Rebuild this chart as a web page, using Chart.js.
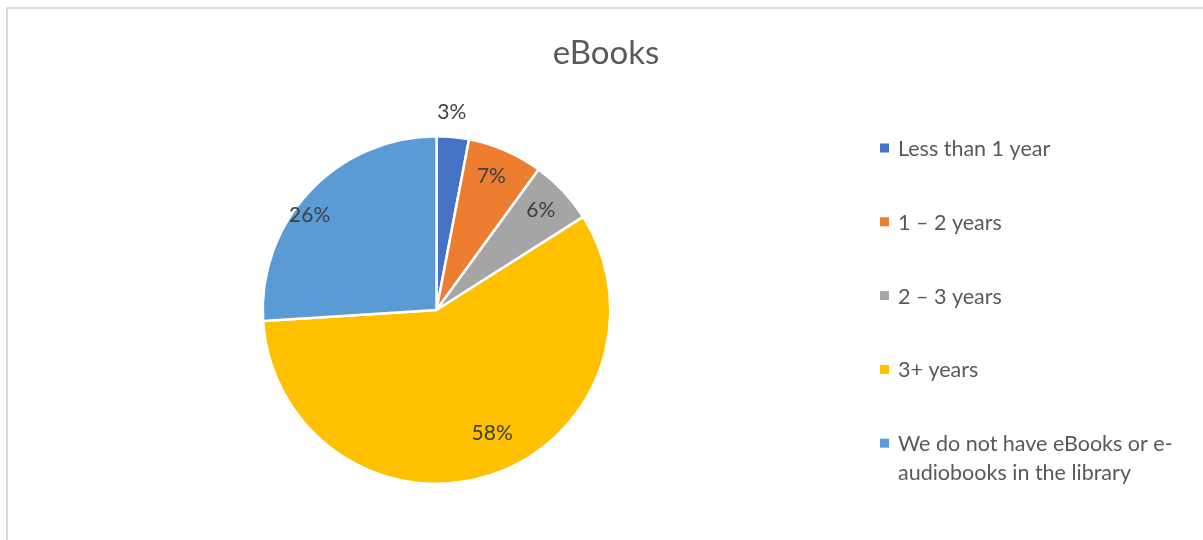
<!DOCTYPE html>
<html>
<head>
<meta charset="utf-8">
<script src="https://cdn.jsdelivr.net/npm/chart.js@4/dist/chart.umd.min.js"></script>
<style>
  html, body { margin: 0; padding: 0; background: #ffffff; overflow: hidden; }
  #frame { position: absolute; left: 6px; top: 7px; width: 1400px; height: 700px;
           border-left: 2px solid #d9d9d9; border-top: 2px solid #dedede; }
  #wrap { position: absolute; left: 0; top: 0; width: 1203px; height: 540px; }
</style>
</head>
<body>
<div id="frame"></div>
<div id="wrap"><canvas id="c" width="1203" height="540"></canvas></div>
<script>
// Survey answers: how long the library has offered eBooks
const chartTitle = 'eBooks';
const categories = ['Less than 1 year', '1 – 2 years', '2 – 3 years', '3+ years',
                    'We do not have eBooks or e-audiobooks in the library'];
const shares = [3, 7, 6, 58, 26];
const legendLines = [
  ['Less than 1 year'],
  ['1 – 2 years'],
  ['2 – 3 years'],
  ['3+ years'],
  ['We do not have eBooks or e-', 'audiobooks in the library']
];
const sliceColors = ['#4472C4', '#ED7D31', '#A5A5A5', '#FFC000', '#5B9BD5'];

// Where each percentage label sits: fraction along the slice's sweep, and
// distance from the centre as a fraction of the outer radius.
const labelPlacement = [
  { along: 0.41, radius: 1.14 },
  { along: 0.46, radius: 0.83 },
  { along: 0.48, radius: 0.83 },
  { along: 0.47, radius: 0.78 },
  { along: 0.43, radius: 0.91 }
];

const FONT = 'Lato, Calibri, "Open Sans", sans-serif';

const decorations = {
  id: 'decorations',
  afterDraw(chart) {
    const ctx = chart.ctx;
    ctx.save();

    // title
    ctx.fillStyle = '#595959';
    ctx.font = '33px ' + FONT;
    ctx.textAlign = 'center';
    ctx.textBaseline = 'middle';
    ctx.fillText(chartTitle, 606, 53);

    // percentage labels
    const meta = chart.getDatasetMeta(0);
    ctx.fillStyle = '#404040';
    ctx.font = '21px ' + FONT;
    meta.data.forEach((arc, i) => {
      const p = arc.getProps(['x', 'y', 'startAngle', 'endAngle', 'outerRadius'], true);
      const pl = labelPlacement[i];
      const a = p.startAngle + (p.endAngle - p.startAngle) * pl.along;
      const r = p.outerRadius * pl.radius;
      ctx.fillText(chart.data.datasets[0].data[i] + '%', p.x + Math.cos(a) * r, p.y + Math.sin(a) * r);
    });

    // legend
    const lx = 880, tx = 898, top = 148, step = 73.8, lineH = 29;
    ctx.font = '21.5px ' + FONT;
    ctx.textAlign = 'left';
    legendLines.forEach((lines, i) => {
      const y = top + step * i;
      ctx.fillStyle = sliceColors[i];
      ctx.fillRect(lx, y - 4.5, 9, 9);
      ctx.fillStyle = '#595959';
      lines.forEach((t, j) => ctx.fillText(t, tx, y + 1 + j * lineH));
    });

    ctx.restore();
  }
};

new Chart(document.getElementById('c'), {
  type: 'pie',
  data: {
    labels: categories,
    datasets: [{
      data: shares,
      backgroundColor: sliceColors,
      borderColor: '#ffffff',
      borderWidth: 2.5
    }]
  },
  options: {
    responsive: false,
    animation: false,
    layout: { padding: { left: 261, right: 591, top: 135, bottom: 55 } },
    plugins: {
      legend: { display: false },
      title: { display: false },
      tooltip: { enabled: false }
    }
  },
  plugins: [decorations]
});
</script>
</body>
</html>
